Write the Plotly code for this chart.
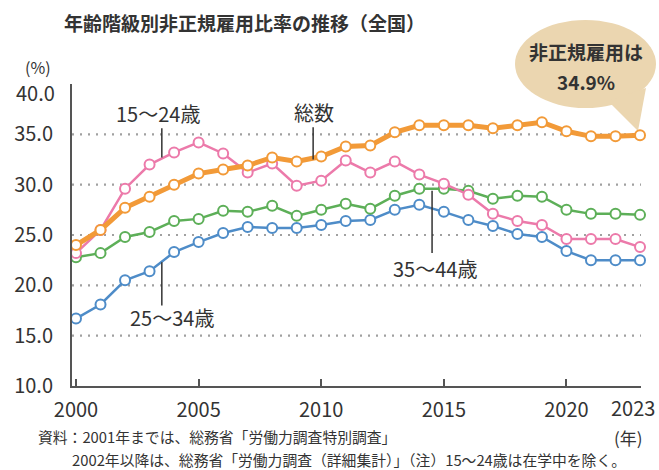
import plotly.graph_objects as go

years = list(range(2000, 2024))
total = [24.0, 25.5, 27.7, 28.8, 30.0, 31.1, 31.5, 31.9, 32.7, 32.3, 32.8, 33.8,
         33.9, 35.2, 35.9, 35.9, 35.9, 35.6, 35.9, 36.2, 35.3, 34.8, 34.8, 34.9]
age15_24 = [23.2, 25.5, 29.6, 32.0, 33.2, 34.2, 33.1, 31.2, 32.1, 29.9, 30.4, 32.4,
            31.2, 32.3, 31.0, 30.1, 29.0, 27.1, 26.4, 26.0, 24.6, 24.6, 24.6, 23.8]
age25_34 = [16.7, 18.1, 20.5, 21.4, 23.3, 24.3, 25.2, 25.8, 25.7, 25.7, 26.0, 26.4,
            26.5, 27.5, 28.0, 27.3, 26.5, 25.9, 25.1, 24.8, 23.4, 22.5, 22.5, 22.5]
age35_44 = [22.8, 23.2, 24.8, 25.3, 26.4, 26.6, 27.4, 27.3, 27.9, 26.9, 27.5, 28.1,
            27.6, 28.9, 29.6, 29.6, 29.4, 28.6, 28.9, 28.8, 27.5, 27.1, 27.1, 27.0]

x_ticks = [2000, 2005, 2010, 2015, 2020, 2023]
# the last x label (2023) is drawn as an annotation so it stays inside the page
x_ticktext = ["2000", "2005", "2010", "2015", "2020", ""]
last_x_label = "2023"
y_ticks = [10, 15, 20, 25, 30, 35, 40]
# the top label (40.0) is drawn slightly lower, as in the original, via an annotation
y_ticktext = ["10.0", "15.0", "20.0", "25.0", "30.0", "35.0", ""]
top_label = "40.0"
grid_vals = [15, 20, 25, 30, 35]

FONT = "Noto Sans CJK JP"
TXT = "#333333"

W, H = 659, 470
# plot area in pixels
L, R, T, B = 72, 641, 84, 386


def px(x):
    return (x - L) / (R - L)


def py(y):
    return (B - y) / (B - T)


fig = go.Figure()


def add_series(vals, color, lw):
    fig.add_trace(go.Scatter(
        x=years, y=vals, mode="lines+markers",
        line=dict(color=color, width=lw),
        marker=dict(size=10, color="white", line=dict(color=color, width=2)),
        showlegend=False, hoverinfo="skip", cliponaxis=False))


add_series(age25_34, "#4E8CC8", 2.5)
add_series(age35_44, "#5DAF58", 2.5)
add_series(age15_24, "#EC7AAA", 2.5)
add_series(total, "#F29A38", 5)

shapes = []
for g in grid_vals:
    shapes.append(dict(type="line", xref="paper", yref="y", x0=0, x1=1, y0=g, y1=g,
                       line=dict(color="#A0A0A0", width=2.2, dash="2px,6px"), layer="below"))

# callout bubble
shapes.append(dict(type="circle", xref="paper", yref="paper",
                   x0=px(515), x1=px(656), y0=py(108), y1=py(20),
                   fillcolor="#EBD6B0", line=dict(width=0), layer="below"))
shapes.append(dict(type="path", xref="paper", yref="paper",
                   path=f"M {px(608)},{py(101)} L {px(646)},{py(88)} L {px(638)},{py(131)} Z",
                   fillcolor="#EBD6B0", line=dict(width=0), layer="below"))

# leader lines
leaders = [
    (2003.5, 35.6, 32.7),
    (2009.67, 35.7, 32.5),
    (2014.52, 29.4, 23.2),
    (2003.5, 22.3, 18.0),
]
for xv, y0, y1 in leaders:
    shapes.append(dict(type="line", xref="x", yref="y", x0=xv, x1=xv, y0=y0, y1=y1,
                       line=dict(color="#333333", width=1.5)))

ann = []


def text(x, y, s, size, bold=False, xanchor="center", color=TXT):
    ann.append(dict(xref="paper", yref="paper", x=px(x), y=py(y), text=f"<b>{s}</b>" if bold else s,
                    showarrow=False, xanchor=xanchor, yanchor="middle",
                    font=dict(family=FONT, size=size, color=color)))


text(62, 22, "年齢階級別非正規雇用比率の推移（全国）", 19, bold=True, xanchor="left")
text(38, 67, "(%)", 16)
text(57, 92, top_label, 20, xanchor="right")
text(657, 407, last_x_label, 20, xanchor="right")
text(586, 52, "非正規雇用は", 19, bold=True)
text(586, 81, "34.9%", 19, bold=True)
text(158, 113, "15〜24歳", 20)
text(314, 112, "総数", 20)
text(435, 268, "35〜44歳", 20)
text(172, 317, "25〜34歳", 20)
text(628, 437, "(年)", 17)
text(36, 436, "資料：2001年までは、総務省「労働力調査特別調査」", 14.8, xanchor="left")
text(70, 459, "2002年以降は、総務省「労働力調査（詳細集計）」（注）15〜24歳は在学中を除く。", 14.8, xanchor="left")

fig.update_layout(
    width=W, height=H,
    margin=dict(l=L, r=W - R, t=T, b=H - B, pad=0, autoexpand=False),
    paper_bgcolor="white", plot_bgcolor="white",
    font=dict(family=FONT, color=TXT),
    shapes=shapes, annotations=ann,
    xaxis=dict(range=[1999.837, 2023.04], tickvals=x_ticks, ticktext=x_ticktext,
               showgrid=False, zeroline=False,
               showline=True, linecolor="#555555", linewidth=2, automargin=False,
               ticks="inside", ticklen=7, tickwidth=1.5, tickcolor="#555555",
               ticklabelstandoff=5, ticklabeloverflow="allow",
               tickfont=dict(family=FONT, size=20, color=TXT)),
    yaxis=dict(range=[10, 40], tickvals=y_ticks, ticktext=y_ticktext, showgrid=False,
               zeroline=False, showline=True, linecolor="#555555", linewidth=2,
               automargin=False, ticks="", ticklabelstandoff=13,
               tickfont=dict(family=FONT, size=20, color=TXT)),
)

fig.write_html(
    "out.html",
    config={"displayModeBar": False},
    post_script="document.body.style.margin='0';document.body.style.overflow='hidden';",
)
